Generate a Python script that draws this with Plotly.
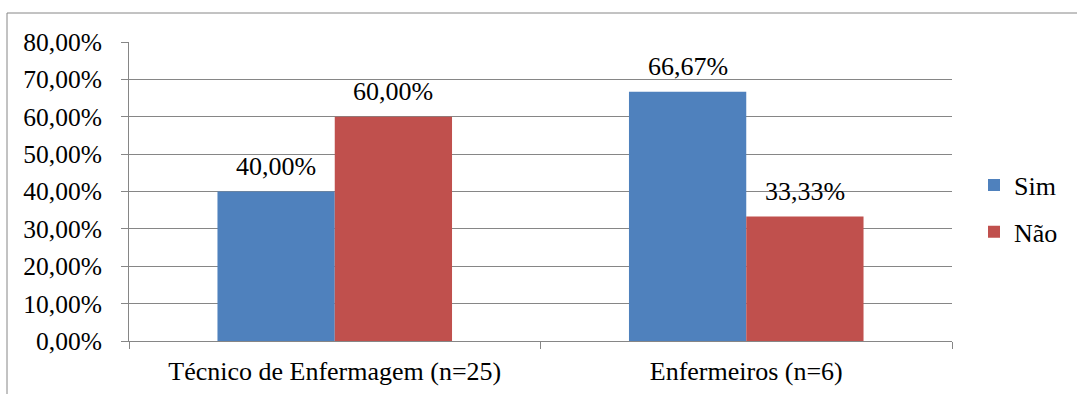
import plotly.graph_objects as go

categories = ["Técnico de Enfermagem (n=25)", "Enfermeiros (n=6)"]
sim = [0.40, 0.6667]
nao = [0.60, 0.3333]
series = [("Sim", sim, "#4F81BD"), ("Não", nao, "#C0504D")]

FONT = "Liberation Serif"
GRID = "#868686"
FS = 26

W, H = 1077, 394
ML, MR, MT, MB = 129, 125, 42, 53
PW, PH = W - ML - MR, H - MT - MB

fig = go.Figure()
for name, vals, color in series:
    fig.add_trace(go.Bar(
        name=name, x=categories, y=vals,
        marker=dict(color=color, line=dict(width=0)),
        legendgroup=name,
    ))

# value labels above each bar
bar_px = PW / len(categories) * 0.57 / 2
for i, (name, vals, color) in enumerate(series):
    shift = (i - 0.5) * bar_px
    for c, v in zip(categories, vals):
        fig.add_annotation(
            x=c, y=v, xref="x", yref="y",
            text=f"{v * 100:.2f}%".replace(".", ","),
            showarrow=False, xshift=shift, yshift=25,
            yanchor="middle", font=dict(family=FONT, size=FS, color="#000"),
        )

# outer chart frame
fig.add_shape(
    type="rect", xref="paper", yref="paper",
    x0=(7 - ML) / PW, x1=(W + 10 - ML) / PW,
    y0=-(H + 10 - MT - PH) / PH, y1=(MT + PH - 13) / PH,
    line=dict(color=GRID, width=1), fillcolor="rgba(0,0,0,0)", layer="below",
)

fig.update_layout(
    width=W, height=H,
    margin=dict(l=ML, r=MR, t=MT, b=MB, autoexpand=False),
    paper_bgcolor="white", plot_bgcolor="white",
    separators=",.",
    barmode="group", bargap=0.43, bargroupgap=0,
    font=dict(family=FONT, size=FS, color="#000"),
    showlegend=True,
    legend=dict(
        x=(974 - ML) / PW, y=(MT + PH - 208.5) / PH,
        xanchor="left", yanchor="middle",
        font=dict(family=FONT, size=FS, color="#000"),
        tracegroupgap=10, bgcolor="rgba(0,0,0,0)",
    ),
    xaxis=dict(
        type="category", showline=True, linecolor=GRID, linewidth=1,
        ticks="outside", tickson="boundaries", ticklen=7, tickcolor=GRID,
        showgrid=False, ticklabelstandoff=7, automargin=False,
        tickfont=dict(family=FONT, size=FS, color="#000"),
    ),
    yaxis=dict(
        range=[0, 0.8], dtick=0.1, tickformat=".2%",
        showline=True, linecolor=GRID, linewidth=1,
        showgrid=True, gridcolor=GRID, gridwidth=1,
        ticks="outside", ticklen=7, tickcolor=GRID,
        ticklabelstandoff=14, zeroline=False, automargin=False,
        tickfont=dict(family=FONT, size=25.5, color="#000"),
    ),
)

fig.write_html("out.html")
